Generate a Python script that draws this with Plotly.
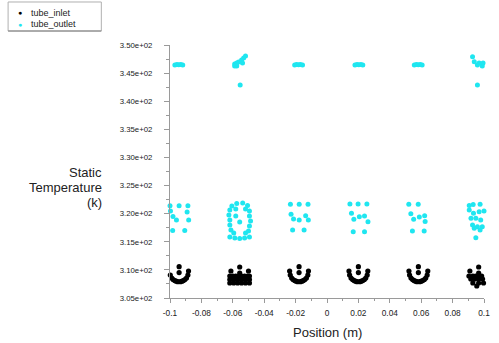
import plotly.graph_objects as go

# ---------------- data (Position in m, Static Temperature in K) ----------------
inlet_x = [
    # tube near -0.094
    -0.1002, -0.0942, -0.0882, -0.0942, -0.0998, -0.0989, -0.0980, -0.0970, -0.0961, -0.0951,
    -0.0933, -0.0923, -0.0914, -0.0905, -0.0895, -0.0886,
    # tube near -0.056
    -0.0612, -0.0556, -0.0500, -0.0556,
    -0.0619, -0.0600, -0.0581, -0.0562, -0.0544, -0.0525, -0.0506, -0.0494,
    -0.0619, -0.0594, -0.0569, -0.0544, -0.0519, -0.0494,
    -0.0619, -0.0594, -0.0569, -0.0544, -0.0519, -0.0494,
    # tube near -0.018
    -0.0238, -0.0178, -0.0118, -0.0178, -0.0234, -0.0225, -0.0216, -0.0206, -0.0197, -0.0187,
    -0.0169, -0.0159, -0.0150, -0.0141, -0.0131, -0.0122,
    # tube near 0.020
    0.0140, 0.0200, 0.0260, 0.0200, 0.0144, 0.0153, 0.0163, 0.0172, 0.0181, 0.0191,
    0.0209, 0.0219, 0.0228, 0.0238, 0.0247, 0.0256,
    # tube near 0.058
    0.0522, 0.0582, 0.0642, 0.0582, 0.0526, 0.0535, 0.0545, 0.0554, 0.0563, 0.0573,
    0.0591, 0.0601, 0.0610, 0.0620, 0.0629, 0.0638,
    # tube near 0.097
    0.0910, 0.0966, 0.1022, 0.0966,
    0.0904, 0.0929, 0.0947, 0.0966, 0.0985, 0.1004, 0.1029,
    0.0916, 0.0941, 0.0966, 0.0991, 0.1016,
    0.0929, 0.0966, 0.0997,
    0.0954,
]
inlet_T = [
    309.80, 310.57, 309.80, 309.53, 309.09, 308.56, 308.29, 308.11, 307.99, 307.90,
    307.90, 307.99, 308.11, 308.29, 308.56, 309.09,
    309.80, 310.51, 309.80, 309.45,
    308.91, 308.91, 308.91, 308.91, 308.91, 308.91, 308.91, 308.91,
    308.29, 308.29, 308.29, 308.29, 308.29, 308.29,
    307.67, 307.67, 307.67, 307.67, 307.67, 307.67,
    309.80, 310.57, 309.80, 309.53, 309.09, 308.56, 308.29, 308.11, 307.99, 307.90,
    307.90, 307.99, 308.11, 308.29, 308.56, 309.09,
    309.80, 310.57, 309.80, 309.53, 309.09, 308.56, 308.29, 308.11, 307.99, 307.90,
    307.90, 307.99, 308.11, 308.29, 308.56, 309.09,
    309.80, 310.57, 309.80, 309.53, 309.09, 308.56, 308.29, 308.11, 307.99, 307.90,
    307.90, 307.99, 308.11, 308.29, 308.56, 309.09,
    309.80, 310.51, 309.80, 309.45,
    308.91, 308.91, 308.91, 308.91, 308.91, 308.91, 308.91,
    308.38, 308.38, 308.38, 308.38, 308.38,
    307.67, 307.67, 307.67,
    307.13,
]

outlet_x = [
    # tube near -0.094 (middle band + top band)
    -0.1000, -0.0942, -0.0886, -0.0997, -0.0981, -0.0959, -0.0891, -0.0881, -0.0983, -0.0906,
    -0.0969, -0.0956, -0.0944, -0.0931, -0.0919,
    # tube near -0.056
    -0.0575, -0.0537, -0.0506, -0.0606,
    -0.0619, -0.0581, -0.0519, -0.0494,
    -0.0625, -0.0619, -0.0619, -0.0612,
    -0.0494, -0.0487, -0.0494, -0.0500,
    -0.0556, -0.0581,
    -0.0619, -0.0587, -0.0556, -0.0525, -0.0494,
    -0.0594, -0.0519,
    -0.0588, -0.0575, -0.0563, -0.0544, -0.0531, -0.0519, -0.0538, -0.0575, -0.0588, -0.0553,
    # tube near -0.018
    -0.0233, -0.0177, -0.0121, -0.0229, -0.0213, -0.0177, -0.0136, -0.0119, -0.0219, -0.0146,
    -0.0206, -0.0194, -0.0181, -0.0169, -0.0156,
    # tube near 0.020
    0.0146, 0.0198, 0.0254, 0.0156, 0.0171, 0.0206, 0.0239, 0.0261, 0.0167, 0.0239,
    0.0178, 0.0191, 0.0203, 0.0216, 0.0228,
    # tube near 0.058
    0.0521, 0.0581, 0.0534, 0.0552, 0.0588, 0.0622, 0.0625, 0.0544, 0.0619,
    0.0556, 0.0569, 0.0581, 0.0594, 0.0606,
    # tube near 0.097
    0.0906, 0.0931, 0.0975, 0.1013,
    0.0906, 0.0933, 0.0969, 0.1000,
    0.0917, 0.0948, 0.0979, 0.1011,
    0.0927, 0.0938, 0.0958, 0.0989, 0.0975,
    0.0948,
    0.0927, 0.0938, 0.0958, 0.0989, 0.0994, 0.0969, 0.0958,
]
outlet_T = [
    321.42, 321.42, 321.42, 320.47, 319.49, 318.87, 320.30, 318.87, 317.00, 317.00,
    346.45, 346.55, 346.50, 346.55, 346.45,
    321.81, 321.90, 321.45, 321.36,
    320.65, 320.83, 320.83, 320.47,
    319.76, 318.87, 317.98, 317.09,
    319.58, 318.69, 317.81, 316.92,
    318.52, 319.58,
    315.85, 315.67, 315.58, 315.67, 315.85,
    316.56, 316.56,
    346.62, 346.80, 346.98, 347.33, 347.69, 348.04, 346.80, 346.26, 346.26, 342.88,
    321.67, 321.67, 321.67, 319.89, 319.05, 318.87, 319.64, 318.87, 317.09, 317.09,
    346.45, 346.55, 346.50, 346.55, 346.45,
    321.72, 321.72, 321.72, 320.06, 319.00, 319.46, 319.58, 318.57, 316.79, 316.79,
    346.45, 346.55, 346.50, 346.55, 346.45,
    321.68, 321.68, 319.98, 319.02, 319.41, 319.64, 318.61, 316.92, 316.92,
    346.45, 346.55, 346.50, 346.55, 346.45,
    321.45, 321.63, 321.67, 321.36,
    320.65, 320.06, 320.35, 320.47,
    319.17, 319.17, 318.87, 319.05,
    317.98, 317.40, 317.68, 317.68, 317.09,
    315.72,
    347.92, 347.03, 346.44, 346.26, 346.80, 346.80, 342.88,
]

series_names = ["tube_inlet", "tube_outlet"]
series_colors = ["#000000", "#1fe6f0"]

x_tickvals = [-0.1, -0.08, -0.06, -0.04, -0.02, 0, 0.02, 0.04, 0.06, 0.08, 0.1]
x_ticktext = ["-0.1", "-0.08", "-0.06", "-0.04", "-0.02", "0", "0.02", "0.04", "0.06", "0.08", "0.1"]
y_tickvals = [305, 310, 315, 320, 325, 330, 335, 340, 345, 350]
y_ticktext = ["3.05e+02", "3.10e+02", "3.15e+02", "3.20e+02", "3.25e+02",
              "3.30e+02", "3.35e+02", "3.40e+02", "3.45e+02", "3.50e+02"]

x_title = "Position (m)"
y_title_lines = ["Static", "Temperature", "(k)"]

FONT = "Arial, 'Liberation Sans', sans-serif"
AXC = "#9a9a9a"

fig = go.Figure()
fig.add_trace(go.Scatter(x=inlet_x, y=inlet_T, mode="markers", name=series_names[0],
                         marker=dict(size=5.2, color=series_colors[0]), cliponaxis=False,
                         showlegend=False))
fig.add_trace(go.Scatter(x=outlet_x, y=outlet_T, mode="markers", name=series_names[1],
                         marker=dict(size=5.0, color=series_colors[1]), cliponaxis=False,
                         showlegend=False))

fig.update_layout(
    width=499, height=343,
    margin=dict(l=170, r=9, t=45, b=45),
    paper_bgcolor="white", plot_bgcolor="white",
    font=dict(family=FONT, color="#222"),
    showlegend=False,
)
fig.update_xaxes(
    range=[-0.1, 0.1], showgrid=False, zeroline=False,
    showline=True, linecolor=AXC, linewidth=1,
    ticks="outside", ticklen=4, tickcolor=AXC,
    tickmode="array", tickvals=x_tickvals, ticktext=x_ticktext,
    tickfont=dict(size=8.3, color="#222"), ticklabelstandoff=3,
    minor=dict(tickmode="linear", tick0=-0.1, dtick=0.01, ticks="outside", ticklen=2, tickcolor=AXC, showgrid=False),
)
fig.update_yaxes(
    range=[305, 350], showgrid=False, zeroline=False,
    showline=True, linecolor=AXC, linewidth=1,
    ticks="outside", ticklen=5, tickcolor=AXC,
    tickmode="array", tickvals=y_tickvals, ticktext=y_ticktext,
    tickfont=dict(size=7.8, color="#222"), ticklabelstandoff=10,
    minor=dict(tickmode="linear", tick0=305, dtick=2.5, ticks="outside", ticklen=3, tickcolor=AXC, showgrid=False),
)

# axis titles
fig.add_annotation(text=x_title, xref="paper", yref="paper", x=0.503, y=-0.138,
                   xanchor="center", yanchor="middle", showarrow=False,
                   font=dict(size=13, color="#222", family=FONT))
for txt, yp in zip(y_title_lines, [0.496, 0.4387, 0.3794]):
    fig.add_annotation(text=txt, xref="paper", yref="paper", x=-0.2109, y=yp,
                       xanchor="right", yanchor="middle", showarrow=False,
                       font=dict(size=13, color="#222", family=FONT))

# legend box (drawn manually to match the compact original)
fig.add_shape(type="rect", xref="paper", yref="paper", x0=-0.5156, x1=-0.21875, y0=1.0553, y1=1.17,
              line=dict(color="#b0b0b0", width=1), fillcolor="white")
fig.add_shape(type="line", xref="paper", yref="paper", x0=-0.5156, x1=-0.21875, y0=1.0553, y1=1.0553,
              line=dict(color="#808080", width=1))
for name, col, yp in zip(series_names, series_colors, [1.1265, 1.083]):
    fig.add_annotation(text="●", xref="paper", yref="paper", x=-0.4791, y=yp,
                       xanchor="center", yanchor="middle", showarrow=False,
                       font=dict(size=7, color=col, family=FONT))
    fig.add_annotation(text=name, xref="paper", yref="paper", x=-0.4469, y=yp,
                       xanchor="left", yanchor="middle", showarrow=False, borderpad=0,
                       font=dict(size=9, color="#222", family=FONT))

fig.write_html("out.html")
